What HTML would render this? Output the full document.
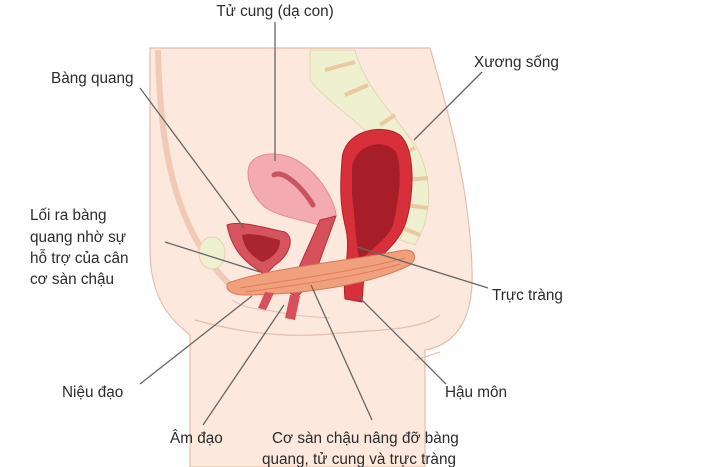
<!DOCTYPE html>
<html><head><meta charset="utf-8"><style>
html,body{margin:0;padding:0;background:#fff;}
svg{display:block}
text{font-family:"Liberation Sans",sans-serif;font-size:15.3px;fill:#2b2b2b}
</style></head><body>
<svg width="701" height="467" viewBox="0 0 701 467">
<!-- body -->
<path d="M150,48 L430,48 C448,110 470,190 472,270 C474,320 455,345 425,350 L425,467 L190,467 L190,335 C168,318 150,295 150,250 Z" fill="#fce8dc" stroke="#e3bfae" stroke-width="1.2"/>
<path d="M158,50 C160,150 175,230 230,285" fill="none" stroke="#f1c9b6" stroke-width="6"/>
<path d="M310,48 C330,90 380,130 420,170" fill="none" stroke="#f3d6c6" stroke-width="2"/>
<path d="M195,320 C230,330 280,340 340,333 C380,330 420,330 440,315" fill="none" stroke="#e3bfae" stroke-width="1.2"/>
<path d="M232,300 C250,312 270,308 290,315 L330,318" fill="#fde9de" stroke="#e3bfae" stroke-width="1"/>
<path d="M415,360 L440,352" stroke="#e3bfae" stroke-width="1"/>
<!-- spine -->
<path d="M310,50 L355,50 C365,90 400,120 418,150 C435,185 430,220 415,245 L400,240 C410,210 410,180 395,160 C370,130 325,100 310,80 Z" fill="#eef0cf" stroke="#e0d6b0"/>
<path d="M325,70 L355,62 M345,95 L368,85 M380,125 L395,115 M400,155 L415,148 M405,180 L428,178 M405,205 L428,208 M402,228 L420,235" stroke="#e9c9a0" stroke-width="4"/>
<!-- left bone -->
<ellipse cx="212" cy="253" rx="13" ry="16" fill="#eef0cf" stroke="#e0d6b0"/>
<!-- rectum -->
<path d="M342,160 C343,132 380,122 400,135 C416,150 414,195 406,222 C398,246 378,256 364,275 L362,302 L345,299 C342,272 352,250 345,225 C340,205 340,185 342,160 Z" fill="#d8303a" stroke="#b3202a"/>
<path d="M352,168 C355,143 385,138 396,152 C403,170 399,200 393,225 C386,242 368,250 360,262 C355,240 355,215 352,195 Z" fill="#a81e28"/>
<!-- uterus -->
<path d="M248,172 C248,155 270,150 290,157 C312,166 332,192 336,214 L322,226 C305,220 282,218 266,208 C254,198 248,186 248,172 Z" fill="#f3aab1" stroke="#e08c95"/>
<path d="M274,175 C282,170 300,184 313,205" fill="none" stroke="#c75560" stroke-width="5" stroke-linecap="round"/>
<path d="M320,220 L336,216 L312,282 L297,297 L288,292 Z" fill="#d5505a" stroke="#b3303a"/>
<!-- bladder -->
<path d="M227,225 C240,220 265,228 285,232 C295,238 290,255 275,265 L265,275 L258,270 C245,262 232,250 227,225 Z" fill="#d6545d" stroke="#b3303a"/>
<path d="M242,235 C255,232 270,238 280,240 C280,252 272,258 262,262 C250,255 244,248 242,235 Z" fill="#a92530"/>
<!-- pelvic floor muscle -->
<path d="M228,283 C270,268 340,262 405,250 C415,250 418,258 410,265 C370,285 300,295 245,295 C232,295 224,290 228,283 Z" fill="#f0a07c" stroke="#d6785a"/>
<path d="M240,288 C290,280 350,272 405,258 M245,292 C300,285 360,276 400,264" stroke="#e07c5c" stroke-width="1" fill="none"/>
<path d="M265,292 L258,308 L266,310 L274,293 Z M290,295 L285,318 L295,320 L300,296 Z" fill="#d5505a"/>
<!-- lines -->
<g stroke="#666" stroke-width="1.3">
<line x1="275" y1="22" x2="275" y2="161"/>
<line x1="140" y1="88" x2="244" y2="228"/>
<line x1="482" y1="72" x2="414" y2="140"/>
<line x1="165" y1="242" x2="260" y2="272"/>
<line x1="488" y1="288" x2="357" y2="247"/>
<line x1="140" y1="384" x2="252" y2="296"/>
<line x1="203" y1="425" x2="284" y2="305"/>
<line x1="372" y1="420" x2="311" y2="285"/>
<line x1="446" y1="384" x2="358" y2="296"/>
</g>
<!-- labels -->
<text x="275" y="16" text-anchor="middle">Tử cung (dạ con)</text>
<text x="51" y="83">Bàng quang</text>
<text x="474" y="67">Xương sống</text>
<text x="30" y="220">Lối ra bàng</text>
<text x="30" y="242">quang nhờ sự</text>
<text x="30" y="263">hỗ trợ của cân</text>
<text x="30" y="284">cơ sàn chậu</text>
<text x="492" y="300">Trực tràng</text>
<text x="62" y="397">Niệu đạo</text>
<text x="445" y="397">Hậu môn</text>
<text x="170" y="443">Âm đạo</text>
<text x="272" y="443">Cơ sàn chậu nâng đỡ bàng</text>
<text x="262" y="464">quang, tử cung và trực tràng</text>
</svg>
</body></html>
